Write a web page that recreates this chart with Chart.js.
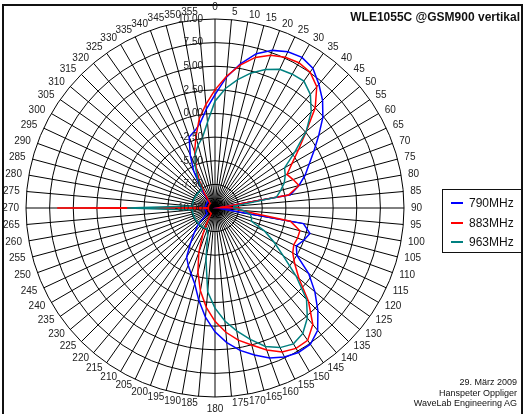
<!DOCTYPE html>
<html>
<head>
<meta charset="utf-8">
<script src="https://cdn.jsdelivr.net/npm/chart.js@4/dist/chart.umd.min.js"></script>
<style>
  html, body { margin: 0; padding: 0; background: #fff; }
  #wrap { position: relative; width: 525px; height: 414px; overflow: hidden;
          font-family: "Liberation Sans", Arial, sans-serif; color: #111; }
  #frame { position: absolute; left: 2px; top: 4px; width: 521px; height: 440px;
           border: 2px solid #111; border-bottom: none; box-sizing: border-box; }
  #chart { position: absolute; left: 0; top: 0; }
  #title { position: absolute; right: 5px; top: 10px; font-size: 12px; font-weight: bold; white-space: nowrap; }
  #legend { position: absolute; left: 442px; top: 189px; width: 80px; height: 64px;
            border: 1px solid #111; box-sizing: border-box; background: #fff; }
  .row { position: absolute; left: 8px; height: 14px; font-size: 12px; line-height: 14px; white-space: nowrap; }
  .swatch { display: inline-block; width: 12px; height: 0; border-top: 2px solid; vertical-align: middle; margin-right: 6px; position: relative; top: -1px; }
  #note { position: absolute; right: 8px; top: 377px; font-size: 9px; line-height: 10.5px; text-align: right; white-space: nowrap; }
</style>
</head>
<body>
<div id="wrap">
  <canvas id="chart" width="525" height="414"></canvas>
  <div id="frame"></div>
  <div id="title">WLE1055C @GSM900 vertikal</div>
  <div id="legend"></div>
  <div id="note">29. März 2009<br>Hanspeter Oppliger<br>WaveLab Engineering AG</div>
</div>
<script>
// Azimuth categories (degrees) around the polar grid
const angleLabels = ['0','5','10','15','20','25','30','35','40','45','50','55',
  '60','65','70','75','80','85','90','95','100','105','110','115',
  '120','125','130','135','140','145','150','155','160','165','170','175',
  '180','185','190','195','200','205','210','215','220','225','230','235',
  '240','245','250','255','260','265','270','275','280','285','290','295',
  '300','305','310','315','320','325','330','335','340','345','350','355'];

// Radial tick values (dB)
const tickValues = [-10, -7.5, -5, -2.5, 0, 2.5, 5, 7.5, 10];

// Measured gain (dB) for each azimuth, one array per frequency
const gain790 = [2.0, 3.9, 5.5, 6.9, 7.75, 8.25, 8.4, 8.05, 7.1, 6.1, 4.9, 3.4,
  2.1, 1.0, 0.15, -0.8, -1.9, -9.5, -7.4, -9.5, -0.5, 0.4, 0.0, -0.5,
  0.0, 2.1, 3.8, 5.4, 6.9, 7.6, 7.65, 7.4, 6.9, 6.1, 5.3, 4.3,
  3.1, 1.6, -0.1, -1.7, -2.6, -3.3, -4.0, -5.5, -6.6, -7.4, -8.5, -9.0,
  -9.0, -9.0, -9.0, -9.0, -9.0, -9.0, -7.8, -9.0, -9.0, -9.0, -9.0, -9.0,
  -9.0, -9.0, -9.0, -9.0, -8.6, -7.4, -5.5, -3.8, -2.0, -1.6, -0.9, 0.5];

const gain883 = [2.5, 4.0, 5.35, 6.5, 7.2, 7.6, 7.75, 7.55, 6.75, 5.0, 2.6, 0.8,
  -0.6, -1.6, -1.2, -0.8, -2.1, -9.5, -7.4, -7.5, -1.9, -0.7, -0.7, -0.8,
  -0.5, 0.3, 1.6, 4.0, 6.1, 7.1, 7.15, 6.8, 6.0, 5.0, 4.2, 3.2,
  2.0, 0.55, -1.1, -3.0, -5.0, -7.0, -8.5, -9.3, -9.3, -9.3, -9.3, -9.3,
  -9.3, -9.3, -9.3, -9.3, -9.3, -9.3, 6.7, -9.3, -9.3, -9.3, -9.3, -9.3,
  -9.3, -9.3, -9.3, -9.3, -8.8, -8.0, -6.7, -5.3, -3.7, -2.2, -0.4, 1.0];

const gain963 = [1.3, 2.7, 3.8, 4.8, 5.6, 6.2, 6.35, 6.4, 5.7, 4.4, 2.6, 0.3,
  -1.5, -1.8, -2.2, -2.8, -3.4, -8.0, -8.0, -7.0, -6.2, -6.0, -5.9, -4.2,
  -2.8, -1.2, 1.2, 3.7, 5.2, 6.2, 6.6, 6.3, 5.6, 4.4, 3.2, 2.0,
  0.6, -1.1, -4.5, -7.0, -7.6, -7.6, -7.6, -7.6, -7.6, -7.6, -7.6, -7.6,
  -7.6, -7.6, -7.6, -7.6, -7.6, -7.6, -0.7, -7.6, -7.6, -7.6, -7.6, -7.6,
  -7.6, -7.6, -7.6, -7.6, -7.6, -7.6, -6.3, -5.0, -3.9, -3.1, -2.4, -0.9];

const seriesNames = ['790MHz', '883MHz', '963MHz'];
const seriesColors = ['#0000ff', '#ff0000', '#008080'];
const seriesData = [gain790, gain883, gain963];

const FONT = '"Liberation Sans", Arial, sans-serif';

// Azimuth labels outside the ring and dB labels beside the 0° spoke
const polarText = {
  id: 'polarText',
  afterDraw(chart) {
    const s = chart.scales.r;
    const c = chart.ctx;
    c.save();
    c.fillStyle = '#222';
    c.font = '10px ' + FONT;
    const R = s.drawingArea + 7;
    angleLabels.forEach((lab, i) => {
      const p = s.getPointPosition(i, R);
      const deg = Number(lab);
      let x = p.x, y = p.y;
      if (deg === 0 || deg === 180) {
        c.textAlign = 'center';
        y += (deg === 0 ? -5 : 5);
      } else {
        c.textAlign = deg < 180 ? 'left' : 'right';
      }
      c.textBaseline = 'middle';
      c.fillText(lab, x, y);
    });
    c.textAlign = 'right';
    c.textBaseline = 'middle';
    tickValues.forEach(v => {
      const d = s.getDistanceFromCenterForValue(v);
      c.fillText(v.toFixed(2), s.xCenter - 12, s.yCenter - d);
    });
    c.restore();
  }
};

new Chart(document.getElementById('chart'), {
  type: 'radar',
  data: {
    labels: angleLabels,
    datasets: seriesData.map((d, i) => ({
      label: seriesNames[i],
      data: d,
      borderColor: seriesColors[i],
      backgroundColor: 'transparent',
      borderWidth: 1.5,
      fill: false,
      pointRadius: 0,
      tension: 0,
      order: 3 - i
    }))
  },
  options: {
    responsive: false,
    animation: false,
    devicePixelRatio: 1,
    layout: { padding: { left: 26, right: 121, top: 19, bottom: 17 } },
    plugins: { legend: { display: false }, tooltip: { enabled: false } },
    scales: {
      r: {
        min: -10,
        max: 10,
        ticks: { stepSize: 2.5, display: false },
        grid: { circular: true, color: '#000', lineWidth: 1 },
        angleLines: { color: '#000', lineWidth: 1 },
        pointLabels: { display: false }
      }
    }
  },
  plugins: [polarText]
});

// Legend box
const legend = document.getElementById('legend');
const rowTops = [6, 26, 45];
seriesNames.forEach((n, i) => {
  const row = document.createElement('div');
  row.className = 'row';
  row.style.top = rowTops[i] + 'px';
  row.innerHTML = '<span class="swatch" style="border-color:' + seriesColors[i] + '"></span>' + n;
  legend.appendChild(row);
});
</script>
</body>
</html>
